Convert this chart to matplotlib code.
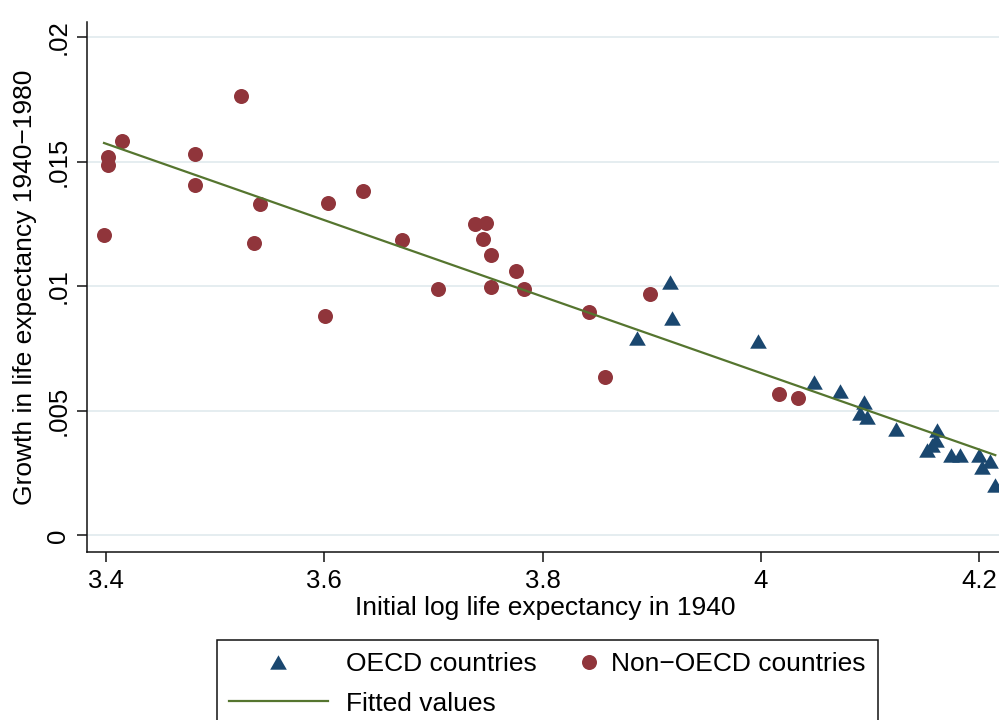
import numpy as np
import matplotlib
matplotlib.use("Agg")
import matplotlib.pyplot as plt
from matplotlib.legend_handler import HandlerLine2D

plt.rcParams['font.family'] = ['Liberation Sans', 'DejaVu Sans']

# OECD countries (triangles)
oecd_x = [3.9162, 3.9181, 3.8860, 3.9968, 4.0481, 4.0728, 4.0947, 4.0911, 4.0975, 4.1240,
          4.1616, 4.1606, 4.1570, 4.1524, 4.1744, 4.1826, 4.2000, 4.2101, 4.2027, 4.2146]
oecd_y = [0.01017, 0.00873, 0.00793, 0.00781, 0.00616, 0.00580, 0.00536, 0.00492, 0.00476, 0.00428,
          0.00424, 0.00384, 0.00364, 0.00344, 0.00324, 0.00324, 0.00324, 0.00300, 0.00276, 0.00203]

# Non-OECD countries (circles)
non_x = [3.3982, 3.4018, 3.4018, 3.4146, 3.4815, 3.4815, 3.5236, 3.5355, 3.5410, 3.6005,
         3.6032, 3.6352, 3.6709, 3.7039, 3.7378, 3.7478, 3.7451, 3.7524, 3.7524, 3.7753,
         3.7826, 3.8421, 3.8568, 3.8979, 4.0169, 4.0343]
non_y = [0.01206, 0.01518, 0.01485, 0.01582, 0.01530, 0.01406, 0.01763, 0.01174, 0.01330, 0.00881,
         0.01334, 0.01382, 0.01185, 0.00989, 0.01249, 0.01254, 0.01190, 0.01126, 0.00997, 0.01061,
         0.00989, 0.00897, 0.00636, 0.00969, 0.00568, 0.00552]

xticks = [3.4, 3.6, 3.8, 4.0, 4.2]
xtick_labels = ['3.4', '3.6', '3.8', '4', '4.2']
yticks = [0, 0.005, 0.01, 0.015, 0.02]
ytick_labels = ['0', '.005', '.01', '.015', '.02']

NAVY = '#1a476f'
MAROON = '#90353b'
GREEN = '#55752f'

# linear fit on all countries
all_x = np.array(oecd_x + non_x)
all_y = np.array(oecd_y + non_y)
slope, intercept = np.polyfit(all_x, all_y, 1)
fit_x = np.sort(all_x)
fit_y = intercept + slope * fit_x

W, H = 999, 720
fig = plt.figure(figsize=(W / 100, H / 100), dpi=100)
ax = fig.add_axes([87 / W, 1 - 552 / H, 1 - 87 / W, (552 - 22) / H])

tri = [(-1, -0.866), (1, -0.866), (0, 0.866)]
h_oecd, = ax.plot(oecd_x, oecd_y, linestyle='none', marker=tri, ms=12,
                  color=NAVY, mec=NAVY, mew=0, label='OECD countries')
h_non, = ax.plot(non_x, non_y, linestyle='none', marker='o', ms=10.8,
                 color=MAROON, mec=MAROON, mew=0, label='Non\u2212OECD countries')
h_fit, = ax.plot(fit_x, fit_y, color=GREEN, lw=1.6, label='Fitted values')

ax.set_xlim(3.3826, 4.218)
ax.set_ylim(-0.000666, 0.02061)
ax.set_xticks(xticks)
ax.set_xticklabels(xtick_labels)
ax.set_yticks(yticks)
ax.set_yticklabels(ytick_labels, rotation=90, va='center')
ax.grid(axis='y', color='#e3ecef', lw=1.3)
ax.set_axisbelow(True)

for s in ['top', 'right']:
    ax.spines[s].set_visible(False)
for s in ['left', 'bottom']:
    ax.spines[s].set_linewidth(1.1)
    ax.spines[s].set_color('#111111')
ax.tick_params(length=7, width=1.1, color='#111111', labelsize=18.5, pad=5)

ax.set_xlabel('Initial log life expectancy in 1940', fontsize=19)
ax.set_ylabel('Growth in life expectancy 1940\u22121980', fontsize=19)
ax.xaxis.set_label_coords((545 - 87) / (W - 87), -(596 - 552) / (552 - 22))
ax.yaxis.set_label_coords(-(87 - 37) / (W - 87), 0.5)


class EndMarker(HandlerLine2D):
    # single marker placed near the right end of the handle box
    def get_xdata(self, legend, xdescent, ydescent, width, height, fontsize):
        p = width - xdescent - 3
        return [p - 1, p + 1], [p]


leg = fig.legend([h_oecd, h_fit, h_non],
                 ['OECD countries', 'Fitted values', 'Non\u2212OECD countries'],
                 ncol=2, loc='upper left', bbox_to_anchor=(217 / W, 1 - 640 / H),
                 borderaxespad=0, fontsize=19, numpoints=1, handlelength=3.75,
                 handletextpad=0.68, columnspacing=-1.6, borderpad=0.45,
                 labelspacing=0.6, fancybox=False, framealpha=1,
                 handler_map={h_non: EndMarker(numpoints=1)})
leg.get_frame().set_edgecolor('#111111')
leg.get_frame().set_linewidth(1.1)

fig.savefig('out.png', dpi=100)
